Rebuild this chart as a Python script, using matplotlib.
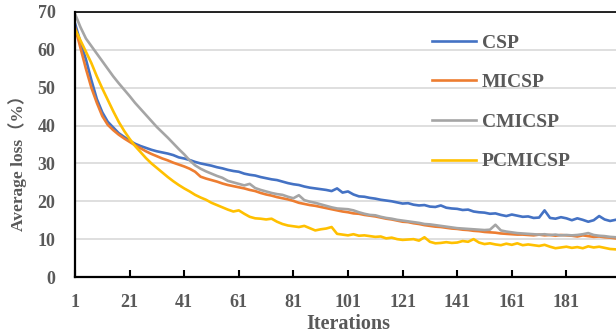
import numpy as np
import matplotlib
matplotlib.use('Agg')
import matplotlib.pyplot as plt

# iteraciones muestreadas cada 2 pasos
iters = np.arange(1, 201, 2)

csp = [67.0, 62.0, 57.5, 52.0, 47.0, 43.5, 41.0, 39.5, 38.0, 37.0,
       36.0, 35.2, 34.6, 34.1, 33.6, 33.2, 32.9, 32.6, 32.2, 31.6,
       31.3, 30.9, 30.4, 30.0, 29.7, 29.4, 29.0, 28.7, 28.3, 28.0,
       27.8, 27.3, 27.0, 26.8, 26.4, 26.1, 25.8, 25.6, 25.2, 24.8,
       24.5, 24.3, 23.9, 23.6, 23.4, 23.2, 23.0, 22.7, 23.4, 22.3,
       22.6, 21.8, 21.3, 21.2, 20.9, 20.7, 20.4, 20.2, 20.0, 19.7,
       19.4, 19.5, 19.1, 18.9, 19.0, 18.6, 18.5, 18.9, 18.3, 18.1,
       18.0, 17.7, 17.8, 17.3, 17.1, 17.0, 16.7, 16.8, 16.4, 16.1,
       16.5, 16.2, 15.9, 16.0, 15.6, 15.7, 17.6, 15.6, 15.4, 15.8,
       15.5, 15.0, 15.5, 15.1, 14.6, 15.0, 16.1, 15.2, 14.8, 15.1]

micsp = [66.0, 60.5, 55.0, 50.0, 46.0, 42.5, 40.2, 38.8, 37.6, 36.6,
         35.7, 34.8, 34.0, 33.2, 32.5, 31.9, 31.3, 30.8, 30.2, 29.7,
         29.2, 28.6, 27.8, 26.5, 26.0, 25.6, 25.2, 24.7, 24.3, 24.0,
         23.7, 23.4, 23.0, 22.7, 22.2, 21.8, 21.5, 21.1, 20.8, 20.5,
         20.1, 19.6, 19.3, 19.0, 18.8, 18.5, 18.2, 17.9, 17.6, 17.3,
         17.1, 16.8, 16.7, 16.4, 16.2, 16.0, 15.7, 15.4, 15.2, 14.9,
         14.6, 14.5, 14.2, 14.0, 13.7, 13.5, 13.3, 13.2, 13.0, 12.8,
         12.7, 12.5, 12.4, 12.2, 12.1, 11.9, 11.8, 11.7, 11.5, 11.4,
         11.3, 11.2, 11.2, 11.1, 11.0, 11.2, 11.0, 11.1, 10.9, 11.1,
         11.0, 10.9, 10.7, 11.0, 10.8, 10.6, 10.7, 10.5, 10.4, 10.2]

cmicsp = [69.5, 66.0, 63.0, 61.0, 59.0, 57.0, 55.0, 53.0, 51.2, 49.5,
          47.8, 46.0, 44.4, 42.8, 41.2, 39.6, 38.2, 36.8, 35.3, 33.8,
          32.4, 30.8, 29.5, 28.6, 27.9, 27.3, 26.7, 26.2, 25.4, 25.0,
          24.6, 24.2, 24.6, 23.5, 23.0, 22.6, 22.2, 21.9, 21.7, 21.2,
          20.8, 21.6, 20.3, 19.9, 19.6, 19.2, 18.8, 18.4, 18.1, 18.0,
          17.9, 17.6, 17.1, 16.7, 16.4, 16.3, 15.9, 15.6, 15.4, 15.1,
          14.9, 14.7, 14.5, 14.3, 14.0, 13.9, 13.7, 13.5, 13.3, 13.1,
          12.9, 12.8, 12.7, 12.6, 12.5, 12.4, 12.5, 13.8, 12.3, 12.0,
          11.8, 11.6, 11.5, 11.4, 11.3, 11.2, 11.3, 11.1, 11.2, 11.0,
          11.1, 11.0, 11.1, 11.3, 11.6, 11.1, 10.9, 10.8, 10.6, 10.5]

pcmicsp = [65.5, 62.5, 59.5, 56.5, 53.0, 49.8, 46.8, 43.8, 41.0, 38.6,
           36.5, 34.6, 33.0, 31.4, 30.0, 28.8, 27.6, 26.4, 25.3, 24.3,
           23.4, 22.6, 21.7, 21.0, 20.4, 19.6, 19.0, 18.4, 17.8, 17.3,
           17.6, 16.7, 15.9, 15.5, 15.4, 15.2, 15.4, 14.6, 14.0, 13.6,
           13.4, 13.2, 13.5, 12.9, 12.3, 12.6, 12.8, 13.2, 11.4, 11.2,
           11.0, 11.3, 10.9, 11.0, 10.8, 10.6, 10.7, 10.2, 10.4, 10.0,
           9.8, 9.9, 10.0, 9.6, 10.5, 9.3, 8.9, 9.0, 9.2, 9.0,
           9.1, 9.5, 9.3, 10.0, 9.1, 8.7, 8.9, 8.6, 8.4, 8.8,
           8.5, 8.9, 8.4, 8.6, 8.4, 8.2, 8.5, 8.0, 7.6, 7.8,
           8.0, 7.7, 7.9, 7.6, 8.1, 7.8, 8.0, 7.7, 7.4, 7.3]

series = [('CSP', csp, '#4472C4'),
          ('MICSP', micsp, '#ED7D31'),
          ('CMICSP', cmicsp, '#A5A5A5'),
          ('PCMICSP', pcmicsp, '#FFC000')]

xticks = [1, 21, 41, 61, 81, 101, 121, 141, 161, 181]
yticks = [0, 10, 20, 30, 40, 50, 60, 70]

txt = '#595959'
plt.rcParams['font.family'] = ['Liberation Serif', 'DejaVu Serif']
plt.rcParams['font.weight'] = 'bold'

fig = plt.figure(figsize=(6.16, 3.35), dpi=100)
ax = fig.add_axes([75 / 616, 58 / 335, 546 / 616, 265 / 335])

for name, vals, c in series:
    ax.plot(iters, vals, color=c, lw=1.9, label=name, solid_joinstyle='round')

ax.set_xlim(1, 201)
ax.set_ylim(0, 70)
ax.set_xticks(xticks)
ax.set_yticks(yticks)
ax.yaxis.grid(True, color='#d9d9d9', lw=1.2)
ax.set_axisbelow(True)

for s in ['left', 'bottom']:
    ax.spines[s].set_linewidth(1.6)
    ax.spines[s].set_color('black')
ax.spines['top'].set_linewidth(1.2)
ax.spines['right'].set_visible(False)

ax.tick_params(axis='x', direction='in', length=5, width=1.5, pad=12,
               labelsize=13, labelcolor=txt)
ax.tick_params(axis='y', length=0, pad=14, labelsize=13, labelcolor=txt)
for lab in ax.get_xticklabels() + ax.get_yticklabels():
    lab.set_fontweight('bold')

ax.set_xlabel('Iterations', fontsize=14.5, fontweight='bold', color=txt, labelpad=2.5)
ax.set_ylabel('Average loss（%）', fontsize=12.5, fontweight='bold', color=txt,
              family=['Liberation Serif', 'Noto Sans CJK SC'])
ax.yaxis.set_label_coords(-0.088, 0.445)

leg = ax.legend(loc='upper left', bbox_to_anchor=(432 / 616, 1 - 34 / 335),
                bbox_transform=fig.transFigure, frameon=False,
                fontsize=14, handlelength=2.25, handletextpad=0.3,
                labelspacing=1.13, borderpad=0, borderaxespad=0)
for t in leg.get_texts():
    t.set_color(txt)
    t.set_fontweight('bold')

fig.savefig('out.png', dpi=100)
